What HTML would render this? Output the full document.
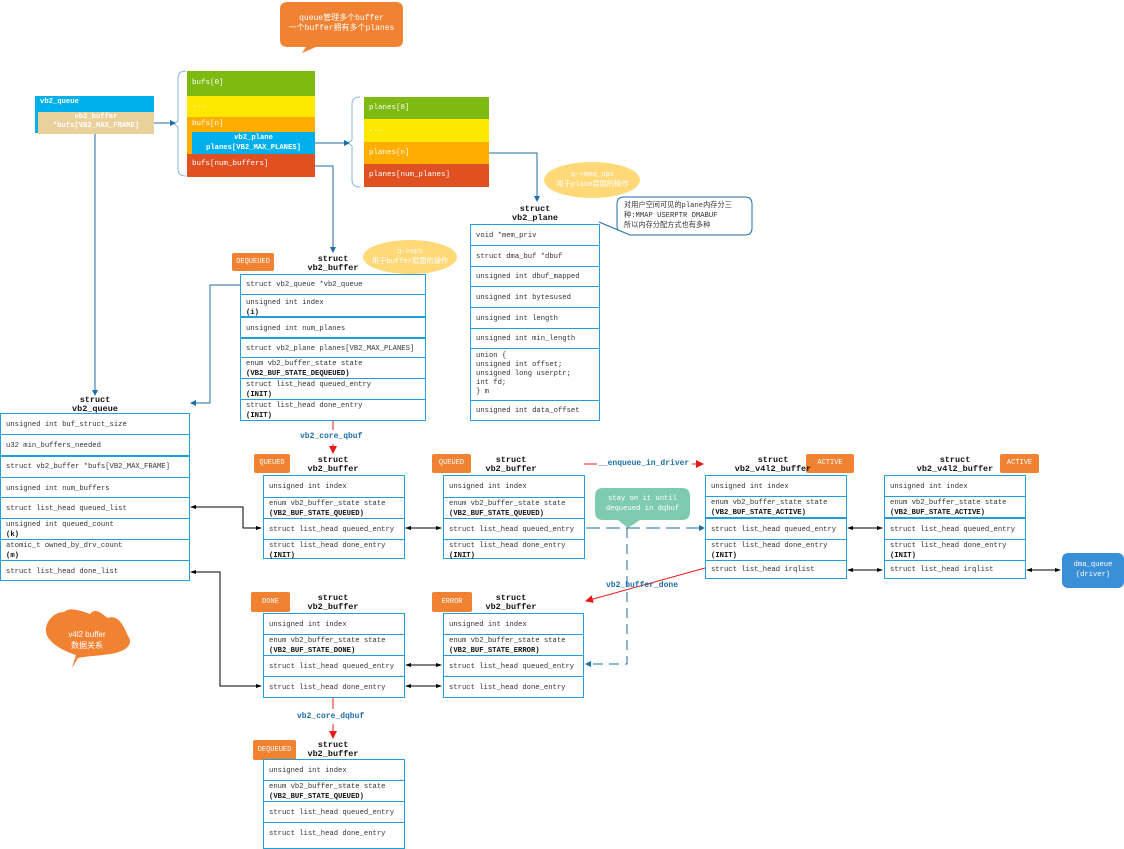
<!DOCTYPE html>
<html><head><meta charset="utf-8">
<style>
body{margin:0;width:1124px;height:843px;background:#fff;position:relative;overflow:hidden;font-family:"Liberation Mono","Noto Sans CJK SC",monospace;font-size:7.2px;color:#333}
.a{position:absolute}
.box{position:absolute;border:1px solid #1ea0d8;box-sizing:border-box;background:#fff}
.r{position:absolute;left:0;right:0;border-bottom:1px solid #1ea0d8;box-sizing:border-box;padding:3px 0 0 5px;line-height:10px;white-space:nowrap;overflow:hidden}
.r:last-child{border-bottom:none}
.r b{font-weight:bold;color:#111}
.lbl{position:absolute;text-align:center;font-weight:bold;color:#111;font-size:8.5px;line-height:9px;white-space:nowrap}
.tag{position:absolute;background:#f08232;color:#fff;font-size:7px;text-align:center;border-radius:2px;box-sizing:border-box}
.col{position:absolute;color:#fff;padding-left:5px;box-sizing:border-box;white-space:nowrap;font-size:7.5px}
.bl{position:absolute;color:#1e6ea8;font-weight:bold;font-size:8px;white-space:nowrap}
</style></head><body>
<svg class="a" style="left:0;top:0" width="1124" height="843">
<defs>
<marker id="ab" markerWidth="6" markerHeight="6" refX="5" refY="3" orient="auto"><path d="M0,0 L6,3 L0,6z" fill="#1e6ea8"/></marker>
<marker id="ar" markerWidth="8" markerHeight="8" refX="7" refY="4" orient="auto"><path d="M0,0 L8,4 L0,8z" fill="#e81818"/></marker>
<marker id="ak" markerWidth="6" markerHeight="6" refX="5" refY="3" orient="auto"><path d="M0,1 L6,3 L0,5z" fill="#000"/></marker>
<marker id="aks" markerWidth="6" markerHeight="6" refX="1" refY="3" orient="auto"><path d="M6,1 L0,3 L6,5z" fill="#000"/></marker>
</defs>
<path d="M288,2 H396 Q403,2 403,9 V40 Q403,47 396,47 H316 L302,53 L306,47 H288 Q280,47 280,40 V9 Q280,2 288,2z" fill="#f08232"/>
<path d="M186,71 Q178,71 178,78 V121 L174,124 L178,127 V169 Q178,176 186,176" fill="none" stroke="#8ab4d8"/>
<path d="M360,97 Q352,97 352,104 V140 L348,143 L352,146 V180 Q352,187 360,187" fill="none" stroke="#8ab4d8"/>
<g stroke="#1e6ea8" fill="none" stroke-width="1">
<line x1="154" y1="123" x2="175" y2="123" marker-end="url(#ab)"/>
<line x1="315" y1="143" x2="349" y2="143" marker-end="url(#ab)"/>
<polyline points="489,153 537,153 537,201" marker-end="url(#ab)"/>
<polyline points="315,166 333,166 333,252" marker-end="url(#ab)"/>
<polyline points="240,285 210,285 210,403 191,403" marker-end="url(#ab)"/>
<line x1="95" y1="133" x2="95" y2="395" marker-end="url(#ab)"/>
<line x1="586" y1="528" x2="704" y2="528" stroke-dasharray="14,6" marker-end="url(#ab)"/>
<polyline points="627,528 627,664 586,664" stroke-dasharray="10,6" marker-end="url(#ab)"/>
</g>
<ellipse cx="592" cy="180" rx="48" ry="18" fill="#ffd878"/>
<ellipse cx="410" cy="257" rx="47" ry="17" fill="#ffd878"/>
<path d="M624,197 H745 Q752,197 752,204 V228 Q752,235 745,235 H630 L599,222 L618,230 Q617,228 617,226 V204 Q617,197 624,197z" fill="#fff" stroke="#1e6ea8"/>
<path d="M603,488 H682 Q690,488 690,496 V512 Q690,520 682,520 H640 L628,528 L618,520 H603 Q595,520 595,512 V496 Q595,488 603,488z" fill="#7ecbb2"/>
<g stroke="#e81818" fill="none">
<line x1="333" y1="420" x2="333" y2="430"/><line x1="333" y1="444" x2="333" y2="453" marker-end="url(#ar)"/>
<line x1="333" y1="697" x2="333" y2="709"/><line x1="333" y1="724" x2="333" y2="738" marker-end="url(#ar)"/>
<line x1="584" y1="464" x2="597" y2="464"/><line x1="692" y1="464" x2="703" y2="464" marker-end="url(#ar)"/>
<line x1="705" y1="568" x2="586" y2="601" marker-end="url(#ar)"/>
</g>
<g stroke="#000" fill="none">
<polyline points="191,507 243,507 243,528 261,528" marker-start="url(#aks)" marker-end="url(#ak)"/>
<line x1="406" y1="528" x2="441" y2="528" marker-start="url(#aks)" marker-end="url(#ak)"/>
<line x1="848" y1="528" x2="882" y2="528" marker-start="url(#aks)" marker-end="url(#ak)"/>
<line x1="848" y1="570" x2="882" y2="570" marker-start="url(#aks)" marker-end="url(#ak)"/>
<line x1="1027" y1="570" x2="1060" y2="570" marker-start="url(#aks)" marker-end="url(#ak)"/>
<polyline points="191,572 220,572 220,686 261,686" marker-start="url(#aks)" marker-end="url(#ak)"/>
<line x1="406" y1="665" x2="441" y2="665" marker-start="url(#aks)" marker-end="url(#ak)"/>
<line x1="406" y1="686" x2="441" y2="686" marker-start="url(#aks)" marker-end="url(#ak)"/>
</g>
<path d="M72,668 L76,655 C60,650 44,640 46,628 C48,618 56,612 64,612 C70,606 84,612 90,614 C96,606 104,616 108,618 C118,614 124,626 128,636 C134,644 126,652 110,654 C98,656 86,656 78,658z" fill="#f08232"/>
</svg>

<div class="a" style="left:280px;top:14px;width:123px;text-align:center;color:#fff;font-size:8px;line-height:10px">queue管理多个buffer<br>一个buffer拥有多个planes</div>

<div class="a" style="left:35px;top:96px;width:119px;height:37px;background:#00b0ec"></div>
<div class="a" style="left:40px;top:98px;color:#fff;font-weight:bold">vb2_queue</div>
<div class="a" style="left:38px;top:112px;width:116px;height:21px;background:#ead09a;color:#fff;font-weight:bold;text-align:center;line-height:9px;padding-top:1px">vb2_buffer<br>*bufs[VB2_MAX_FRAME]</div>

<div class="col" style="left:187px;top:71px;width:128px;height:25px;background:#7fba12;line-height:25px">bufs[0]</div>
<div class="col" style="left:187px;top:96px;width:128px;height:21px;background:#ffe800;line-height:21px">...</div>
<div class="col" style="left:187px;top:117px;width:128px;height:37px;background:#ffae00;line-height:14px">bufs[n]</div>
<div class="a" style="left:192px;top:132px;width:123px;height:22px;background:#00b0ec;color:#fff;font-weight:bold;text-align:center;line-height:10px;padding-top:1px">vb2_plane<br>planes[VB2_MAX_PLANES]</div>
<div class="col" style="left:187px;top:154px;width:128px;height:23px;background:#e05020;line-height:21px">bufs[num_buffers]</div>

<div class="col" style="left:364px;top:97px;width:125px;height:22px;background:#7fba12;line-height:22px">planes[0]</div>
<div class="col" style="left:364px;top:119px;width:125px;height:23px;background:#ffe800;line-height:23px">...</div>
<div class="col" style="left:364px;top:142px;width:125px;height:22px;background:#ffae00;line-height:22px">planes[n]</div>
<div class="col" style="left:364px;top:164px;width:125px;height:23px;background:#e05020;line-height:23px">planes[num_planes]</div>

<div class="a" style="left:545px;top:170px;width:95px;text-align:center;color:#fff;line-height:10px">q->mem_ops<br>用于plane层面的操作</div>
<div class="a" style="left:363px;top:247px;width:94px;text-align:center;color:#fff;line-height:10px">q->ops<br>用于buffer层面的操作</div>
<div class="a" style="left:624px;top:201px;width:124px;color:#333;line-height:10px">对用户空间可见的plane内存分三种:MMAP USERPTR DMABUF<br>所以内存分配方式也有多种</div>
<div class="a" style="left:595px;top:494px;width:95px;text-align:center;color:#fff;line-height:10px">stay on it until<br>dequeued in dqbuf</div>
<div class="a" style="left:1062px;top:553px;width:62px;height:35px;background:#3a90d8;border-radius:6px;color:#fff;text-align:center;line-height:10px;padding-top:7px;box-sizing:border-box">dma_queue<br>(driver)</div>
<div class="a" style="left:46px;top:629px;width:82px;text-align:center;color:#fff;font-family:'Liberation Sans','Noto Sans CJK SC',sans-serif;font-size:8px;line-height:11px">v4l2 buffer<br>数据关系</div>

<div class="lbl" style="left:490px;top:205px;width:90px">struct<br>vb2_plane</div>
<div class="box" style="left:470px;top:224px;width:130px;height:197px">
<div class="r" style="top:0;height:21px;padding-top:6px">void *mem_priv</div>
<div class="r" style="top:21px;height:21px;padding-top:6px">struct dma_buf *dbuf</div>
<div class="r" style="top:42px;height:20px;padding-top:5px">unsigned int dbuf_mapped</div>
<div class="r" style="top:62px;height:21px;padding-top:6px">unsigned int bytesused</div>
<div class="r" style="top:83px;height:21px;padding-top:6px">unsigned int length</div>
<div class="r" style="top:104px;height:20px;padding-top:5px">unsigned int min_length</div>
<div class="r" style="top:124px;height:52px;line-height:9px">union {<br>unsigned int offset;<br>unsigned long userptr;<br>int fd;<br>} m</div>
<div class="r" style="top:176px;height:20px;padding-top:5px">unsigned int data_offset</div>
</div>

<div class="tag" style="left:232px;top:253px;width:42px;height:18px;line-height:18px">DEQUEUED</div>
<div class="lbl" style="left:290px;top:255px;width:86px">struct<br>vb2_buffer</div>
<div class="box" style="left:240px;top:274px;width:186px;height:147px">
<div class="r" style="top:0;height:20px;padding-top:5px">struct vb2_queue *vb2_queue</div>
<div class="r" style="top:20px;height:23px;border-bottom-width:2px">unsigned int index<br><b>(i)</b></div>
<div class="r" style="top:43px;height:21px;padding-top:6px;border-bottom-width:2px">unsigned int num_planes</div>
<div class="r" style="top:64px;height:19px;padding-top:5px">struct vb2_plane planes[VB2_MAX_PLANES]</div>
<div class="r" style="top:83px;height:21px;padding-top:1px">enum vb2_buffer_state  state<br><b>(VB2_BUF_STATE_DEQUEUED)</b></div>
<div class="r" style="top:104px;height:21px;padding-top:1px">struct list_head queued_entry<br><b>(INIT)</b></div>
<div class="r" style="top:125px;height:21px;padding-top:1px">struct list_head done_entry<br><b>(INIT)</b></div>
</div>

<div class="lbl" style="left:50px;top:396px;width:90px">struct<br>vb2_queue</div>
<div class="box" style="left:0;top:413px;width:190px;height:168px">
<div class="r" style="top:0;height:21px;padding-top:6px">unsigned int buf_struct_size</div>
<div class="r" style="top:21px;height:22px;padding-top:6px;border-bottom-width:2px">u32 min_buffers_needed</div>
<div class="r" style="top:43px;height:21px;padding-top:5px">struct vb2_buffer *bufs[VB2_MAX_FRAME]</div>
<div class="r" style="top:64px;height:20px;padding-top:6px">unsigned int num_buffers</div>
<div class="r" style="top:84px;height:21px;padding-top:6px">struct list_head queued_list</div>
<div class="r" style="top:105px;height:21px;padding-top:1px">unsigned int queued_count<br><b>(k)</b></div>
<div class="r" style="top:126px;height:21px;padding-top:1px">atomic_t owned_by_drv_count<br><b>(m)</b></div>
<div class="r" style="top:147px;height:20px;padding-top:6px">struct list_head done_list</div>
</div>

<div class="bl" style="left:300px;top:432px">vb2_core_qbuf</div>
<div class="bl" style="left:598px;top:459px">__enqueue_in_driver</div>
<div class="bl" style="left:606px;top:581px">vb2_buffer_done</div>
<div class="bl" style="left:297px;top:712px">vb2_core_dqbuf</div>

<div class="tag" style="left:254px;top:454px;width:36px;height:19px;line-height:19px">QUEUED</div>
<div class="lbl" style="left:290px;top:456px;width:86px">struct<br>vb2_buffer</div>
<div class="box" style="left:263px;top:475px;width:142px;height:84px">
<div class="r" style="top:0;height:22px;padding-top:6px">unsigned int index</div>
<div class="r" style="top:22px;height:21px;padding-top:1px">enum vb2_buffer_state  state<br><b>(VB2_BUF_STATE_QUEUED)</b></div>
<div class="r" style="top:43px;height:21px;padding-top:6px">struct list_head queued_entry</div>
<div class="r" style="top:64px;height:19px;padding-top:1px">struct list_head done_entry<br><b>(INIT)</b></div>
</div>

<div class="tag" style="left:432px;top:454px;width:39px;height:19px;line-height:19px">QUEUED</div>
<div class="lbl" style="left:468px;top:456px;width:86px">struct<br>vb2_buffer</div>
<div class="box" style="left:443px;top:475px;width:142px;height:84px">
<div class="r" style="top:0;height:22px;padding-top:6px">unsigned int index</div>
<div class="r" style="top:22px;height:21px;padding-top:1px">enum vb2_buffer_state  state<br><b>(VB2_BUF_STATE_QUEUED)</b></div>
<div class="r" style="top:43px;height:21px;padding-top:6px">struct list_head queued_entry</div>
<div class="r" style="top:64px;height:19px;padding-top:1px">struct list_head done_entry<br><b>(INIT)</b></div>
</div>

<div class="tag" style="left:806px;top:454px;width:48px;height:19px;line-height:19px">ACTIVE</div>
<div class="lbl" style="left:728px;top:456px;width:90px">struct<br>vb2_v4l2_buffer</div>
<div class="box" style="left:705px;top:475px;width:142px;height:104px">
<div class="r" style="top:0;height:21px;padding-top:6px">unsigned int index</div>
<div class="r" style="top:21px;height:22px;padding-top:1px;border-bottom-width:2px">enum vb2_buffer_state  state<br><b>(VB2_BUF_STATE_ACTIVE)</b></div>
<div class="r" style="top:43px;height:21px;padding-top:6px">struct list_head queued_entry</div>
<div class="r" style="top:64px;height:21px;padding-top:1px">struct list_head done_entry<br><b>(INIT)</b></div>
<div class="r" style="top:85px;height:18px;padding-top:4px">struct list_head irqlist</div>
</div>

<div class="tag" style="left:1000px;top:454px;width:39px;height:19px;line-height:19px">ACTIVE</div>
<div class="lbl" style="left:910px;top:456px;width:90px">struct<br>vb2_v4l2_buffer</div>
<div class="box" style="left:884px;top:475px;width:142px;height:104px">
<div class="r" style="top:0;height:21px;padding-top:6px">unsigned int index</div>
<div class="r" style="top:21px;height:22px;padding-top:1px;border-bottom-width:2px">enum vb2_buffer_state  state<br><b>(VB2_BUF_STATE_ACTIVE)</b></div>
<div class="r" style="top:43px;height:21px;padding-top:6px">struct list_head queued_entry</div>
<div class="r" style="top:64px;height:21px;padding-top:1px">struct list_head done_entry<br><b>(INIT)</b></div>
<div class="r" style="top:85px;height:18px;padding-top:4px">struct list_head irqlist</div>
</div>

<div class="tag" style="left:251px;top:592px;width:39px;height:20px;line-height:20px">DONE</div>
<div class="lbl" style="left:290px;top:594px;width:86px">struct<br>vb2_buffer</div>
<div class="box" style="left:263px;top:613px;width:142px;height:85px">
<div class="r" style="top:0;height:21px;padding-top:6px">unsigned int index</div>
<div class="r" style="top:21px;height:21px;padding-top:1px">enum vb2_buffer_state  state<br><b>(VB2_BUF_STATE_DONE)</b></div>
<div class="r" style="top:42px;height:21px;padding-top:6px">struct list_head queued_entry</div>
<div class="r" style="top:63px;height:21px;padding-top:6px">struct list_head done_entry</div>
</div>

<div class="tag" style="left:432px;top:592px;width:40px;height:20px;line-height:20px">ERROR</div>
<div class="lbl" style="left:468px;top:594px;width:86px">struct<br>vb2_buffer</div>
<div class="box" style="left:443px;top:613px;width:141px;height:85px">
<div class="r" style="top:0;height:21px;padding-top:6px">unsigned int index</div>
<div class="r" style="top:21px;height:21px;padding-top:1px">enum vb2_buffer_state  state<br><b>(VB2_BUF_STATE_ERROR)</b></div>
<div class="r" style="top:42px;height:21px;padding-top:6px">struct list_head queued_entry</div>
<div class="r" style="top:63px;height:21px;padding-top:6px">struct list_head done_entry</div>
</div>

<div class="tag" style="left:253px;top:740px;width:43px;height:20px;line-height:20px">DEQUEUED</div>
<div class="lbl" style="left:290px;top:741px;width:86px">struct<br>vb2_buffer</div>
<div class="box" style="left:263px;top:759px;width:142px;height:90px">
<div class="r" style="top:0;height:21px;padding-top:6px">unsigned int index</div>
<div class="r" style="top:21px;height:21px;padding-top:1px">enum vb2_buffer_state  state<br><b>(VB2_BUF_STATE_QUEUED)</b></div>
<div class="r" style="top:42px;height:21px;padding-top:6px">struct list_head queued_entry</div>
<div class="r" style="top:63px;height:26px;padding-top:6px">struct list_head done_entry</div>
</div>
</body></html>
